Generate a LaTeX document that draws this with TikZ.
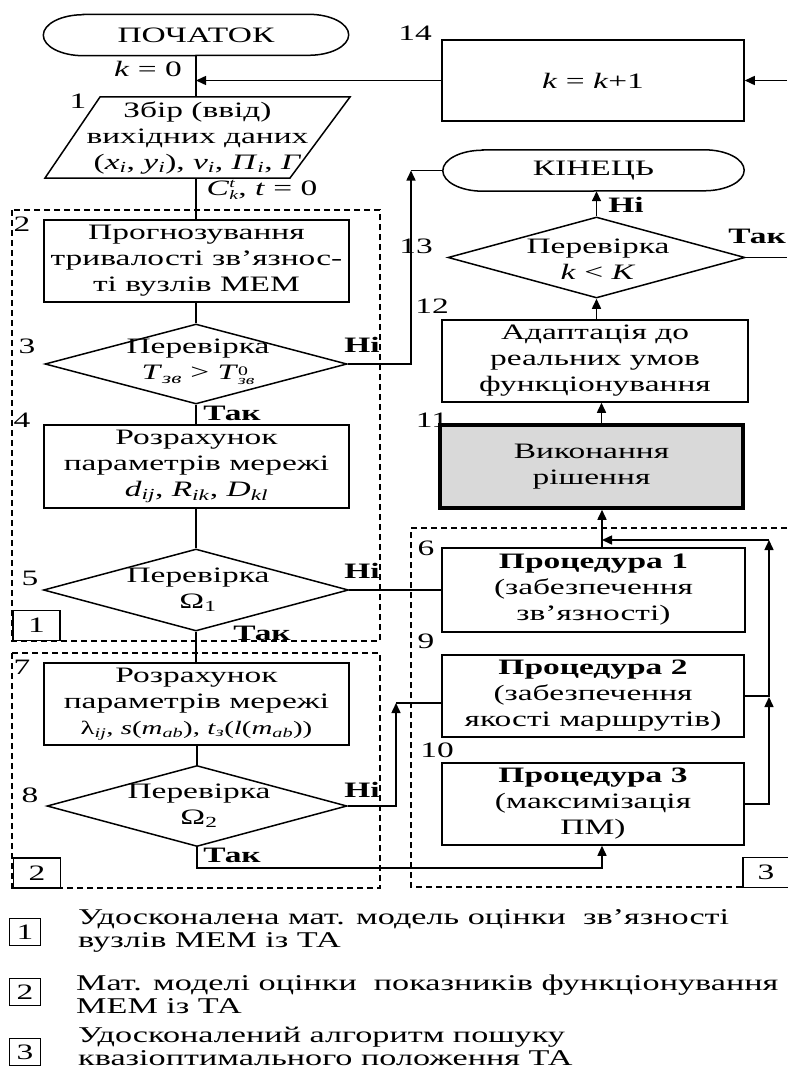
\documentclass[tikz,border=0pt]{standalone}
\usepackage{fontspec}
\setmainfont{Liberation Serif}[FakeStretch=1.52]
\usetikzlibrary{shapes.geometric,arrows.meta}
\newcommand\dfont{\fontsize{22pt}{26pt}\selectfont}
\newcommand\lgfont{\fontsize{22.5pt}{23pt}\selectfont}
\newcommand\mi[1]{\textit{#1}}
\newcommand\supsub[2]{\raisebox{-0.45ex}{\fontsize{13pt}{12pt}\selectfont\shortstack[l]{#1\\#2}}}
\tikzset{
 ln/.style={line width=1.5pt},
 arr/.style={ln,-{Triangle[length=10pt,width=9pt]}},
 blk/.style={draw,ln,minimum width=305pt,minimum height=82pt,inner sep=0pt,align=center,font=\dfont},
 dia/.style={draw,ln,diamond,inner sep=0pt},
 dsh/.style={line width=1.2pt,dash pattern=on 6pt off 4pt},
 lbl/.style={font=\dfont,inner sep=0pt},
 bl/.style={font=\dfont\bfseries,inner sep=0pt},
 term/.style={minimum width=305pt,minimum height=41pt,inner sep=0pt,font=\dfont},
 kbox/.style={draw,ln,minimum width=47pt,minimum height=30pt,inner sep=0pt,font=\dfont},
}
\begin{document}
\begin{tikzpicture}[x=1pt,y=-1pt]
\useasboundingbox (0,0) rectangle (787,1070);

% ---------- start terminal
\node[term] (st) at (196,35) {ПОЧАТОК};
\draw[ln] ([xshift=40pt]st.north west) -- ([xshift=-40pt]st.north east)
  arc[start angle=90,end angle=-90,x radius=40pt,y radius=20.5pt]
  -- ([xshift=40pt]st.south west)
  arc[start angle=270,end angle=90,x radius=40pt,y radius=20.5pt] -- cycle;

% ---------- block 14
\node[blk,minimum width=302pt,minimum height=81pt] (b14) at (593,80.5) {\mi{k} = \mi{k}+1};
\node[lbl] at (415,33) {14};
\node[lbl] at (148,69) {\mi{k} = 0};
\draw[arr] (b14.west) -- (b14.west -| st.south);
\coordinate (eT) at (787,80.5);
\draw[arr] (eT) -- (b14.east);

% ---------- input block 1
\node[inner sep=0pt,minimum width=250pt,minimum height=81pt,font=\dfont,align=center] (in1) at (197.5,137.5)
  {Збір (ввід)\\вихідних даних\\(\mi{x}\textsubscript{\mi{i}}, \mi{y}\textsubscript{\mi{i}}), \mi{v}\textsubscript{\mi{i}}, \mi{Π}\textsubscript{\mi{i}}, \mi{Γ}};
\draw[ln] (100,97) -- (350,97) -- (290,178) -- (45,178) -- cycle;
\draw[ln] (st.south) -- (st.south |- in1.north);
\node[lbl] at (78,101) {1};
\node[lbl] at (262,190) {\mi{C}\supsub{\mi{t}}{\mi{k}}, \mi{t} = 0};

% ---------- dashed group 1
\draw[dsh] (12,210) rectangle (380,641);
\node[kbox] (k1) at (36.5,625.5) {1};

\node[blk] (b2) at (196.5,261) {Прогнозування\\тривалості зв'язнос-\\ті вузлів МЕМ};
\node[lbl] at (22,224) {2};
\draw[ln] (st.south |- in1.south) -- (st.south |- b2.north);

\node[dia,minimum width=302pt,minimum height=80pt] (d3) at (196,364) {};
\node[lbl,align=center] at (198,362) {Перевірка\\\mi{T}\textsubscript{\mi{зв}} > \mi{T}\supsub{0}{\mi{зв}}};
\draw[ln] (b2.south -| d3.north) -- (d3.north);
\node[lbl] at (27,346) {3};
\node[bl] at (362,345) {Ні};
\node[bl] at (232,413) {Так};

\node[blk,minimum height=83pt] (b4) at (196.5,466.5) {Розрахунок\\параметрів мережі\\\mi{d}\textsubscript{\mi{ij}}, \mi{R}\textsubscript{\mi{ik}}, \mi{D}\textsubscript{\mi{kl}}};
\node[lbl] at (22,420) {4};
\draw[ln] (d3.south) -- (d3.south |- b4.north);

\node[dia,minimum width=305pt,minimum height=82pt] (d5) at (196,590) {};
\node[lbl,align=center] at (198,590) {Перевірка\\Ω\textsubscript{1}};
\draw[ln] (b4.south -| d5.north) -- (d5.north);
\node[lbl] at (30,578) {5};
\node[bl] at (362,571) {Ні};
\node[bl] at (262,633) {Так};

% ---------- dashed group 2
\draw[dsh] (12,653) rectangle (380,888);
\node[kbox] (k2) at (37,873) {2};

\node[blk] (b7) at (196.5,704) {Розрахунок\\параметрів мережі\\{\fontsize{19pt}{22pt}\selectfont λ\textsubscript{\mi{ij}}, \mi{s}(\mi{m}\textsubscript{\mi{ab}}), \mi{t}\textsubscript{\mi{з}}(\mi{l}(\mi{m}\textsubscript{\mi{ab}}))}};
\node[lbl] at (22,667) {7};
\draw[ln] (d5.south) -- (d5.south |- b7.north);

\node[dia,minimum width=300pt,minimum height=81pt] (d8) at (197,806) {};
\node[lbl,align=center] at (199,806) {Перевірка\\Ω\textsubscript{2}};
\draw[ln] (b7.south -| d8.north) -- (d8.north);
\node[lbl] at (30,795) {8};
\node[bl] at (362,790) {Ні};
\node[bl] at (232,855) {Так};

% ---------- right column
\node[term,minimum width=301pt] (en) at (593.5,170.5) {КІНЕЦЬ};
\draw[ln] ([xshift=40pt]en.north west) -- ([xshift=-40pt]en.north east)
  arc[start angle=90,end angle=-90,x radius=40pt,y radius=20.5pt]
  -- ([xshift=40pt]en.south west)
  arc[start angle=270,end angle=90,x radius=40pt,y radius=20.5pt] -- cycle;

\node[dia,minimum width=297pt,minimum height=81pt] (d13) at (596.5,257.5) {};
\node[lbl,align=center] at (598,259) {Перевірка\\\mi{k} < \mi{K}};
\draw[arr] (d13.north) -- (d13.north |- en.south);
\coordinate (eR) at (787,257.5);
\draw[ln] (d13.east) -- (eR);
\node[lbl] at (416,246) {13};
\node[bl] at (626,205) {Ні};
\node[bl] at (757,236) {Так};

\node[blk,minimum width=306pt] (b12) at (595,361) {Адаптація до\\реальних умов\\функціонування};
\draw[arr] (d13.south |- b12.north) -- (d13.south);
\node[lbl] at (432,306) {12};

\node[blk,minimum width=303pt,minimum height=83pt,line width=3.5pt,fill={rgb,255:red,217;green,217;blue,217}] (b11) at (591.5,466.5) {Виконання\\рішення};
\draw[arr] ([xshift=10pt]b11.north) -- ([xshift=10pt]b11.north |- b12.south);
\node[lbl] at (432,420) {11};

% ---------- dashed group 3
\draw[dsh] (787,528) -- (411,528) -- (411,887) -- (743,887);
\node[kbox,minimum width=46pt] (k3) at (766,872.5) {3};

\node[blk,minimum width=303pt,minimum height=84pt] (p1) at (593.5,590) {\textbf{Процедура 1}\\(забезпечення\\зв'язності)};
\node[blk,minimum width=302pt] (p2) at (593,696) {\textbf{Процедура 2}\\(забезпечення\\якості маршрутів)};
\node[blk,minimum width=302pt] (p3) at (593,804) {\textbf{Процедура 3}\\(максимізація\\ПМ)};
\node[lbl] at (426,548) {6};
\node[lbl] at (426,641) {9};
\node[lbl] at (437,750) {10};

% connections into procedures
\draw[ln] (d5.east) -- (d5.east -| p1.west);
\coordinate (c3) at (411,170.5);
\draw[arr] (d3.east) -| (c3);
\draw[ln] (c3) -- (en.west);
\coordinate (c8) at (396,703);
\draw[arr] (d8.east) -| (c8);
\draw[ln] (c8) -- (c8 -| p2.west);
\coordinate (c8b) at (197,868);
\draw[arr] (d8.south) -- (c8b) -| ([xshift=9pt]p3.south);

% outputs of procedures
\draw[arr] ([xshift=8.5pt]p1.north) -- ([xshift=8.5pt]p1.north |- b11.south);
\coordinate (r1) at (769,540);
\coordinate (r2) at (769,697);
\draw[arr] (p3.east) -| (r2);
\draw[arr] (p2.east) -| (r1);
\draw[arr] (r1) -- ([xshift=8.5pt]p1.north |- r1);

% ---------- legend
\node[kbox,minimum width=31pt,minimum height=27pt] (g1) at (25,932) {1};
\node[anchor=west,align=left,font=\lgfont,inner sep=0pt] (t1) at (78,931) {Удосконалена мат. модель оцінки\ \ зв'язності\\вузлів МЕМ із ТА};
\node[kbox,minimum width=31pt,minimum height=27pt] (g2) at (25,992) {2};
\node[anchor=west,align=left,font=\lgfont,inner sep=0pt] (t2) at (76,994) {Мат. моделі оцінки\ \ показників функціонування\\МЕМ із ТА};
\node[kbox,minimum width=31pt,minimum height=27pt] (g3) at (25,1052) {3};
\node[anchor=west,align=left,font=\lgfont,inner sep=0pt] (t3) at (78,1046) {Удосконалений алгоритм пошуку\\квазіоптимального положення ТА};
\end{tikzpicture}
\end{document}
